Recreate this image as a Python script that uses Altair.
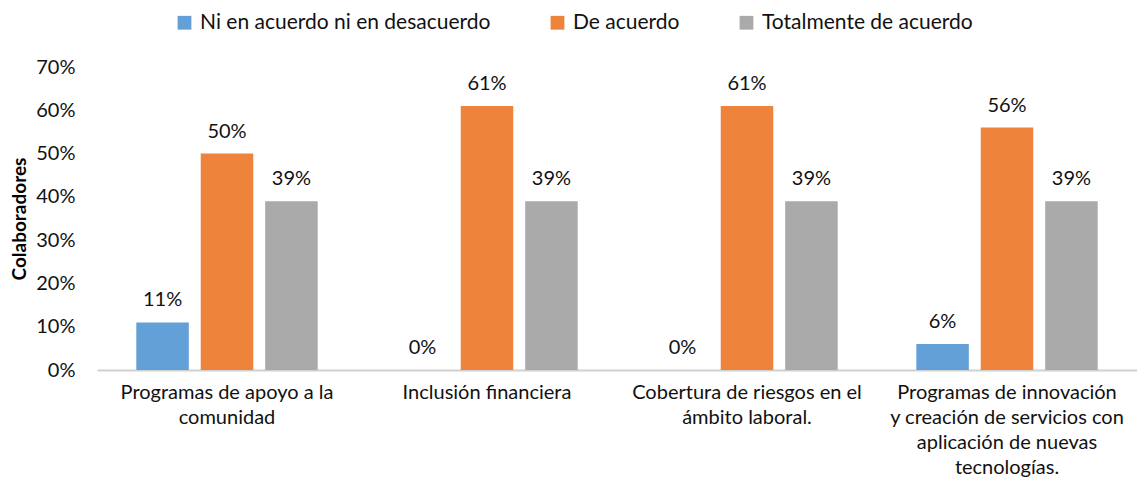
import altair as alt
import pandas as pd

categories = [
    "Programas de apoyo a la\ncomunidad",
    "Inclusión financiera",
    "Cobertura de riesgos en el\námbito laboral.",
    "Programas de innovación\ny creación de servicios con\naplicación de nuevas\ntecnologías.",
]
series = ["Ni en acuerdo ni en desacuerdo", "De acuerdo", "Totalmente de acuerdo"]
ni_values = [0.11, 0.00, 0.00, 0.06]
de_values = [0.50, 0.61, 0.61, 0.56]
tot_values = [0.39, 0.39, 0.39, 0.39]
colors = ["#5B9BD5", "#ED7D31", "#A5A5A5"]

rows = []
for i, c in enumerate(categories):
    for s, vals in zip(series, [ni_values, de_values, tot_values]):
        rows.append({"cat": c, "serie": s, "valor": vals[i]})
df = pd.DataFrame(rows)

FONT = "Lato"
TXT = "#111111"

x = alt.X(
    "cat:N",
    sort=categories,
    scale=alt.Scale(paddingInner=0, paddingOuter=0),
    axis=alt.Axis(
        title=None,
        labelAngle=0,
        labelExpr="split(datum.value, '\\n')",
        labelFontSize=20,
        labelFont=FONT,
        labelColor=TXT,
        labelLineHeight=25,
        labelPadding=12,
        labelLimit=400,
        ticks=False,
        domainColor="#D0D0D0",
        domainWidth=2,
    ),
)
xoff = alt.XOffset(
    "serie:N",
    sort=series,
    scale=alt.Scale(paddingInner=0.185, paddingOuter=0.61),
)
y = alt.Y(
    "valor:Q",
    scale=alt.Scale(domain=[0, 0.7]),
    axis=alt.Axis(
        title="Colaboradores",
        titleFont=FONT,
        titleFontSize=19,
        titleFontWeight="bold",
        titleColor="#000000",
        titlePadding=6,
        format=".0%",
        values=[0, 0.1, 0.2, 0.3, 0.4, 0.5, 0.6, 0.7],
        labelFont=FONT,
        labelFontSize=20,
        labelColor=TXT,
        labelPadding=22,
        domain=False,
        ticks=False,
        grid=False,
    ),
)
color = alt.Color(
    "serie:N",
    sort=series,
    scale=alt.Scale(domain=series, range=colors),
    legend=alt.Legend(
        title=None,
        orient="none",
        direction="horizontal",
        legendX=77,
        legendY=-55,
        labelFont=FONT,
        labelFontSize=21,
        labelColor=TXT,
        symbolType="square",
        symbolSize=190,
        symbolStrokeWidth=0,
        columnPadding=56,
        labelOffset=5,
        labelLimit=400,
    ),
)

bars = alt.Chart(df).mark_bar(opacity=0.95).encode(x=x, xOffset=xoff, y=y, color=color)
labels = alt.Chart(df).mark_text(dy=-22, fontSize=20, font=FONT, color=TXT).encode(
    x=alt.X("cat:N", sort=categories),
    xOffset=alt.XOffset("serie:N", sort=series),
    y="valor:Q",
    text=alt.Text("valor:Q", format=".0%"),
)

chart = (
    alt.layer(bars, labels)
    .properties(
        width=1040,
        height=303,
        autosize=alt.AutoSizeParams(type="none"),
        padding={"left": 89, "top": 59, "right": 0, "bottom": 119},
        background="white",
    )
    .configure_view(stroke=None)
)

chart.save("out.html", embed_options={"renderer": "svg", "actions": False})
